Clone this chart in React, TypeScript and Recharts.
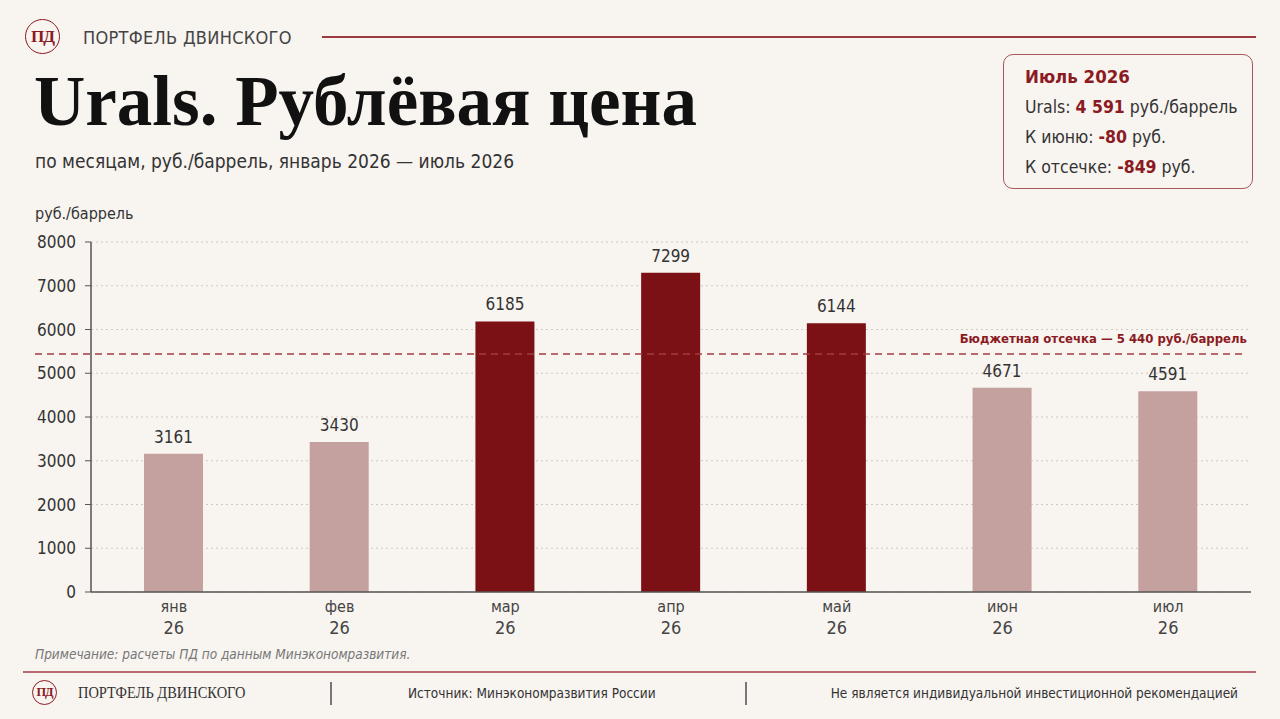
import { BarChart, Bar, XAxis, YAxis, CartesianGrid, ReferenceLine, Cell, LabelList } from 'recharts';

const months = ['янв', 'фев', 'мар', 'апр', 'май', 'июн', 'июл'];
const years = ['26', '26', '26', '26', '26', '26', '26'];
const prices = [3161, 3430, 6185, 7299, 6144, 4671, 4591];
const yTicks = [0, 1000, 2000, 3000, 4000, 5000, 6000, 7000, 8000];
const budgetCutoff = 5440;

const BG = '#f8f4f0';
const DARK = '#7b1015';
const LIGHT = '#c4a09e';
const RED_TEXT = '#8b1a22';
const NARROW = "'Liberation Sans Narrow', 'DejaVu Sans Condensed', Roboto, sans-serif";

const data = months.map((m, i) => ({ month: m, year: years[i], value: prices[i] }));

function MonthTick(props: any) {
  const { x, y, payload, index } = props;
  return (
    <g transform={`translate(${x},${y})`}>
      <text x={0} y={12} textAnchor="middle" fontSize={16} fill="#444" fontFamily={NARROW}>
        {payload.value}
      </text>
      <text x={0} y={34} textAnchor="middle" fontSize={18} fill="#444" fontFamily={NARROW}>
        {years[index]}
      </text>
    </g>
  );
}

// dashed cutoff line runs out over the tick labels, like the original
function CutoffLine(props: any) {
  const { x1, y1, x2, y2 } = props;
  return (
    <g>
      <line x1={x1 - 56} y1={y1} x2={x2 - 4} y2={y2} stroke="#a33c42" strokeWidth={1.5} strokeDasharray="7 5" />
      <text x={x2 - 4} y={y1 - 11} textAnchor="end" fontSize={13} fontWeight="bold" fill={RED_TEXT} fontFamily={NARROW}>
        Бюджетная отсечка — 5 440 руб./баррель
      </text>
    </g>
  );
}

function Logo({ x, y, r }: { x: number; y: number; r: number }) {
  return (
    <div
      style={{
        position: 'absolute',
        left: x - r,
        top: y - r,
        width: r * 2 - 3,
        height: r * 2 - 3,
        border: `1.5px solid ${RED_TEXT}`,
        borderRadius: '50%',
        display: 'flex',
        alignItems: 'center',
        justifyContent: 'center',
        fontFamily: "'Liberation Serif', serif",
        fontWeight: 'bold',
        color: RED_TEXT,
        fontSize: r * 0.95,
        letterSpacing: -1,
      }}
    >
      ПД
    </div>
  );
}

export default function App() {
  return (
    <div style={{ position: 'relative', width: 1280, height: 719, background: BG, overflow: 'hidden', fontFamily: NARROW }}>
      <style>{`body{margin:0;}`}</style>

      {/* header */}
      <Logo x={43} y={37} r={18} />
      <div style={{ position: 'absolute', left: 83, top: 27, fontSize: 18, color: '#444', letterSpacing: 0.3 }}>
        ПОРТФЕЛЬ ДВИНСКОГО
      </div>
      <div style={{ position: 'absolute', left: 322, top: 36, width: 934, height: 2, background: '#9b3a40' }} />
      <div
        style={{
          position: 'absolute',
          left: 34,
          top: 66,
          fontSize: 71,
          fontWeight: 'bold',
          fontFamily: "'Liberation Serif', 'DejaVu Serif', serif",
          color: '#111',
          lineHeight: 1,
        }}
      >
        Urals. Рублёвая цена
      </div>
      <div style={{ position: 'absolute', left: 35, top: 150, fontSize: 19, color: '#333' }}>
        по месяцам, руб./баррель, январь 2026 — июль 2026
      </div>
      <div style={{ position: 'absolute', left: 35, top: 204, fontSize: 16, color: '#333' }}>руб./баррель</div>

      {/* info box */}
      <div
        style={{
          position: 'absolute',
          left: 1003,
          top: 54,
          width: 250,
          height: 135,
          border: '1.5px solid #a8575b',
          borderRadius: 10,
          boxSizing: 'border-box',
          padding: '7px 0 0 21px',
          fontSize: 17.5,
          color: '#333',
          lineHeight: '30px',
        }}
      >
        <div style={{ color: RED_TEXT, fontWeight: 'bold', fontSize: 18.5 }}>Июль 2026</div>
        <div>
          Urals: <b style={{ color: RED_TEXT }}>4 591</b> руб./баррель
        </div>
        <div>
          К июню: <b style={{ color: RED_TEXT }}>-80</b> руб.
        </div>
        <div>
          К отсечке: <b style={{ color: RED_TEXT }}>-849</b> руб.
        </div>
      </div>

      <div style={{ position: 'absolute', left: 0, top: 0 }}>
        <BarChart width={1280} height={719} data={data} margin={{ top: 242, right: 29, bottom: 77, left: 34 }}>
          <CartesianGrid vertical={false} stroke="#cfc9c4" strokeDasharray="2 3" />
          <XAxis
            dataKey="month"
            height={50}
            axisLine={{ stroke: '#555', strokeWidth: 1.5 }}
            tickLine={false}
            tick={<MonthTick />}
            interval={0}
          />
          <YAxis
            width={57}
            domain={[0, 8000]}
            ticks={yTicks}
            interval={0}
            axisLine={{ stroke: '#555', strokeWidth: 1.5 }}
            tickLine={{ stroke: '#555' }}
            tickSize={6}
            tickMargin={9}
            tick={{ fill: '#333', fontSize: 17, fontFamily: NARROW }}
          />
          <ReferenceLine y={budgetCutoff} shape={<CutoffLine />} />
          <Bar dataKey="value" barSize={59} isAnimationActive={false}>
            {data.map((d, i) => (
              <Cell key={i} fill={d.value > budgetCutoff ? DARK : LIGHT} />
            ))}
            <LabelList dataKey="value" position="top" offset={11} fill="#333" fontSize={17} fontFamily={NARROW} />
          </Bar>
        </BarChart>
      </div>

      {/* note and footer */}
      <div style={{ position: 'absolute', left: 35, top: 646, fontSize: 13.5, fontStyle: 'italic', color: '#777' }}>
        Примечание: расчеты ПД по данным Минэкономразвития.
      </div>
      <div style={{ position: 'absolute', left: 23, top: 671, width: 1233, height: 1.5, background: '#b86a6e' }} />
      <Logo x={45} y={693} r={13} />
      <div
        style={{
          position: 'absolute',
          left: 78,
          top: 683,
          fontSize: 17,
          fontFamily: "'Liberation Serif', serif",
          color: '#333',
          transform: 'scaleX(0.85)',
          transformOrigin: 'left center',
          whiteSpace: 'nowrap',
        }}
      >
        ПОРТФЕЛЬ ДВИНСКОГО
      </div>
      <div style={{ position: 'absolute', left: 330, top: 682, width: 1.5, height: 23, background: '#777' }} />
      <div style={{ position: 'absolute', left: 745, top: 682, width: 1.5, height: 23, background: '#777' }} />
      <div style={{ position: 'absolute', left: 408, top: 685, fontSize: 13.5, color: '#333' }}>
        Источник: Минэкономразвития России
      </div>
      <div style={{ position: 'absolute', right: 42, top: 685, fontSize: 13.5, color: '#333' }}>
        Не является индивидуальной инвестиционной рекомендацией
      </div>
    </div>
  );
}
